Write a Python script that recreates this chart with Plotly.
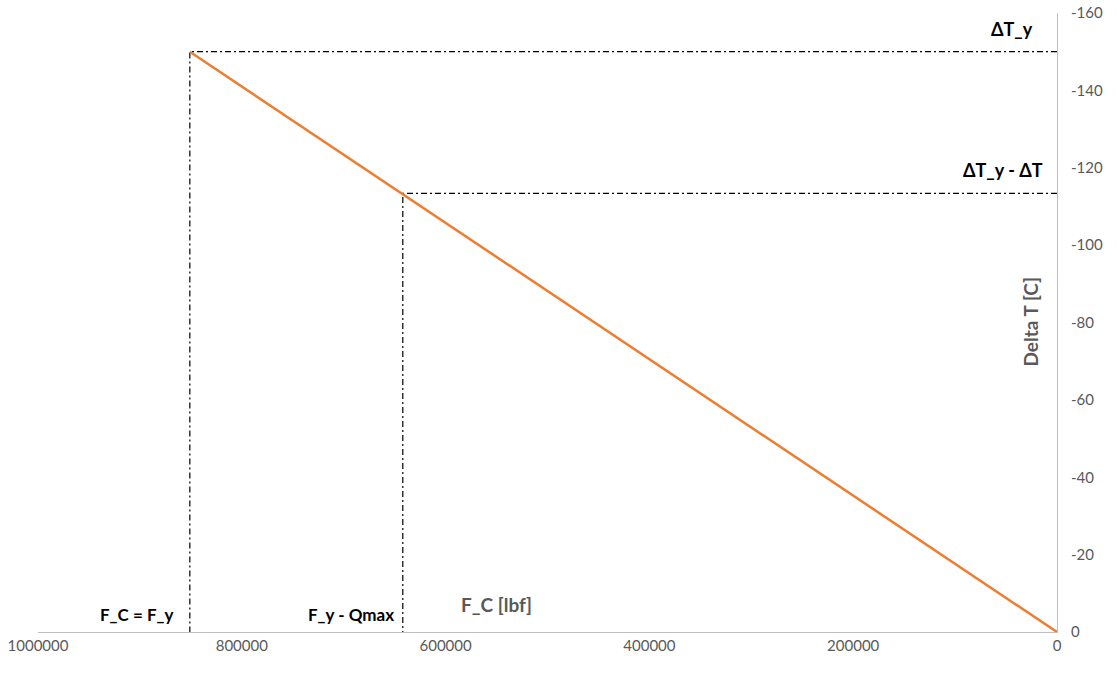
import plotly.graph_objects as go

# Axial force vs. temperature change
force = [0, 851000]
delta_t = [0, -150]

# Reference levels
f_yield = 851000
dt_yield = -150
f_yield_qmax = 642000
dt_yield_minus = -113.4

x_ticks = [1000000, 800000, 600000, 400000, 200000, 0]
x_tick_labels = ["1000000", "800000", "600000", "400000", "200000", "0"]
y_ticks = [0, -20, -40, -60, -80, -100, -120, -140, -160]
y_tick_labels = ["0", "-20", "-40", "-60", "-80", "-100", "-120", "-140", "-160"]

FONT = "Lato"
GRAY = "#595959"

fig = go.Figure()

# dash-dot guide lines (horizontal then vertical down to the axis)
for fx, ty in [(f_yield, dt_yield), (f_yield_qmax, dt_yield_minus)]:
    fig.add_trace(go.Scatter(
        x=[0, fx, fx], y=[ty, ty, 0], mode="lines",
        line=dict(color="black", width=1.2, dash="6px,3px,2px,3px"),
        hoverinfo="skip", showlegend=False))

fig.add_trace(go.Scatter(
    x=force, y=delta_t, mode="lines",
    line=dict(color="#ED7D31", width=2.5), showlegend=False))

bold = dict(family=FONT, size=17, color="black")
fig.add_annotation(x=f_yield, y=0, xref="x", yref="y", text="<b>F_C = F_y</b>",
                   showarrow=False, xanchor="right", yanchor="bottom",
                   xshift=-15, yshift=5, font=bold)
fig.add_annotation(x=f_yield_qmax, y=0, xref="x", yref="y", text="<b>F_y - Qmax</b>",
                   showarrow=False, xanchor="right", yanchor="bottom",
                   xshift=-7, yshift=5, font=bold)
fig.add_annotation(x=1, y=dt_yield, xref="paper", yref="y", text="<b>ΔT_y</b>",
                   showarrow=False, xanchor="right", yanchor="bottom",
                   xshift=-22, yshift=10, font=dict(family=FONT, size=18, color="black"))
fig.add_annotation(x=1, y=dt_yield_minus, xref="paper", yref="y", text="<b>ΔT_y - ΔT</b>",
                   showarrow=False, xanchor="right", yanchor="bottom",
                   xshift=-12, yshift=10, font=dict(family=FONT, size=18, color="black"))

# axis titles placed inside the plot area
fig.add_annotation(x=550000, y=0, xref="x", yref="y", text="<b>F_C [lbf]</b>",
                   showarrow=False, xanchor="center", yanchor="bottom",
                   yshift=14, font=dict(family=FONT, size=19, color=GRAY))
fig.add_annotation(x=1, y=-80, xref="paper", yref="y", text="<b>Delta T [C]</b>",
                   showarrow=False, xanchor="center", yanchor="middle",
                   textangle=-90, xshift=-27,
                   font=dict(family=FONT, size=19, color=GRAY))

fig.update_xaxes(range=[1000000, 0], tickvals=x_ticks, ticktext=x_tick_labels,
                 showgrid=False, zeroline=False, showline=True, automargin=False,
                 linecolor="#BFBFBF", linewidth=1, ticks="",
                 tickfont=dict(family=FONT, size=15, color=GRAY))
fig.update_yaxes(range=[0, -160], tickvals=y_ticks, ticktext=y_tick_labels,
                 side="right", automargin=False,
                 showgrid=False, zeroline=False, showline=True,
                 linecolor="#BFBFBF", linewidth=1, ticks="",
                 ticklabelstandoff=10,
                 tickfont=dict(family=FONT, size=15, color=GRAY))

fig.update_layout(width=1117, height=673, plot_bgcolor="white",
                  paper_bgcolor="white",
                  margin=dict(l=38, r=60, t=13, b=41))

fig.write_html("out.html")
